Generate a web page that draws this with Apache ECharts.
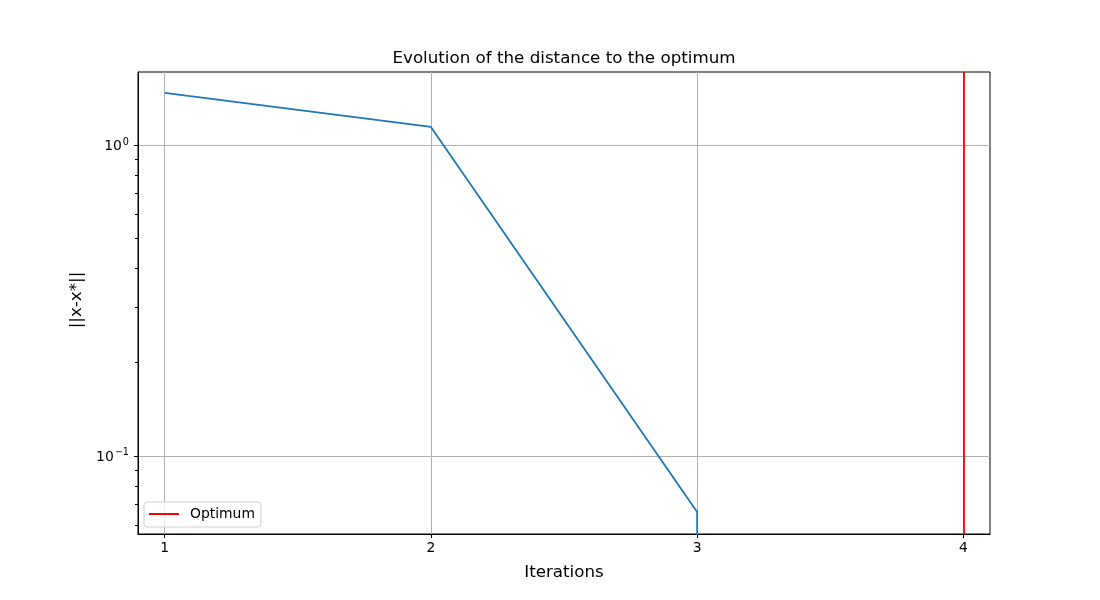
<!DOCTYPE html>
<html>
<head>
<meta charset="utf-8">
<script src="https://cdn.jsdelivr.net/npm/echarts@6/dist/echarts.min.js"></script>
<style>
  html, body { margin: 0; padding: 0; background: #fff; }
  #chart { width: 1100px; height: 600px; }
</style>
</head>
<body>
<div id="chart"></div>
<script>
// données
var iterations = [1, 2, 3, 4];
var distances = [1.47, 1.143, 0.066, 0];
var optimumIter = 4;
var xTicks = [1, 2, 3, 4];
var yMajorTicks = [0.1, 1];
var yMinorTicks = [0.06, 0.07, 0.08, 0.09, 0.2, 0.3, 0.4, 0.5, 0.6, 0.7, 0.8, 0.9];

var FONT = 'DejaVu Sans';

// comme matplotlib (nonpositive='clip'), 0 devient une valeur minuscule
var lineData = iterations.map(function (it, i) {
    return [it, distances[i] > 0 ? distances[i] : 1e-300];
});

var chart = echarts.init(document.getElementById('chart'));

var yBase = {
    type: 'log',
    logBase: 10,
    min: 0.0561,
    max: 1.717,
    position: 'left'
};

chart.setOption({
    animation: false,
    backgroundColor: '#fff',
    title: {
        text: 'Evolution of the distance to the optimum',
        left: 559,
        textAlign: 'center',
        top: 45,
        textStyle: { fontFamily: FONT, fontSize: 16.7, fontWeight: 'normal', color: '#000' }
    },
    legend: {
        data: ['Optimum'],
        left: 144,
        top: 502,
        icon: 'rect',
        itemWidth: 30,
        itemHeight: 2,
        padding: [5, 6, 6, 5],
        backgroundColor: 'rgba(255,255,255,0.8)',
        borderColor: '#d0d0d0',
        borderWidth: 1,
        borderRadius: 3,
        textStyle: { fontFamily: FONT, fontSize: 13.9, color: '#000', padding: [0, 0, 0, 6] }
    },
    grid: {
        left: 138, right: 110, top: 72, bottom: 66,
        show: true,
        borderColor: '#000',
        borderWidth: 1,
        backgroundColor: 'transparent'
    },
    xAxis: {
        type: 'value',
        min: 0.9,
        max: 4.1,
        name: 'Iterations',
        nameLocation: 'middle',
        nameGap: 30,
        nameTextStyle: { fontFamily: FONT, fontSize: 16.7, color: '#000' },
        axisLine: { show: true, lineStyle: { color: '#000', width: 1 } },
        axisTick: { show: true, length: 4, customValues: xTicks, lineStyle: { color: '#000' } },
        axisLabel: {
            customValues: xTicks,
            margin: 7,
            fontFamily: FONT, fontSize: 13.9, color: '#000'
        },
        splitLine: { show: true, lineStyle: { color: '#b0b0b0', width: 1 } }
    },
    yAxis: [
        Object.assign({}, yBase, {
            name: '||x-x*||',
            nameLocation: 'middle',
            nameGap: 43,
            nameRotate: 90,
            nameTextStyle: { fontFamily: FONT, fontSize: 16.7, color: '#000', padding: [0, 0, 0, 6] },
            axisLine: { show: true, lineStyle: { color: '#000', width: 1 } },
            axisTick: { show: true, length: 4, customValues: yMajorTicks, lineStyle: { color: '#000' } },
            axisLabel: {
                customValues: yMajorTicks,
                margin: 9,
                formatter: function (v) {
                    var e = Math.round(Math.log10(v));
                    return '{b|10}{s|' + (e < 0 ? '\u2212' + (-e) : e) + '}';
                },
                rich: {
                    b: { fontFamily: FONT, fontSize: 13.9, color: '#000', verticalAlign: 'bottom' },
                    s: { fontFamily: FONT, fontSize: 9.7, color: '#000', verticalAlign: 'top', padding: [0, 0, 6, 1] }
                }
            },
            splitLine: { show: true, lineStyle: { color: '#b0b0b0', width: 1 } }
        }),
        Object.assign({}, yBase, {
            axisLine: { show: false },
            axisTick: { show: true, length: 3, customValues: yMinorTicks, lineStyle: { color: '#000' } },
            axisLabel: { show: false },
            splitLine: { show: false }
        })
    ],
    series: [
        {
            name: 'distance',
            type: 'line',
            yAxisIndex: 0,
            data: lineData,
            showSymbol: false,
            clip: true,
            lineStyle: { color: '#1f77b4', width: 1.8 },
            itemStyle: { color: '#1f77b4' }
        },
        {
            name: 'Optimum',
            type: 'line',
            yAxisIndex: 0,
            data: [],
            itemStyle: { color: '#ff0000' },
            lineStyle: { color: '#ff0000' },
            markLine: {
                silent: true,
                symbol: 'none',
                label: { show: false },
                lineStyle: { color: '#ff0000', width: 1.8, type: 'solid' },
                data: [{ xAxis: optimumIter }]
            }
        }
    ]
});
</script>
</body>
</html>
